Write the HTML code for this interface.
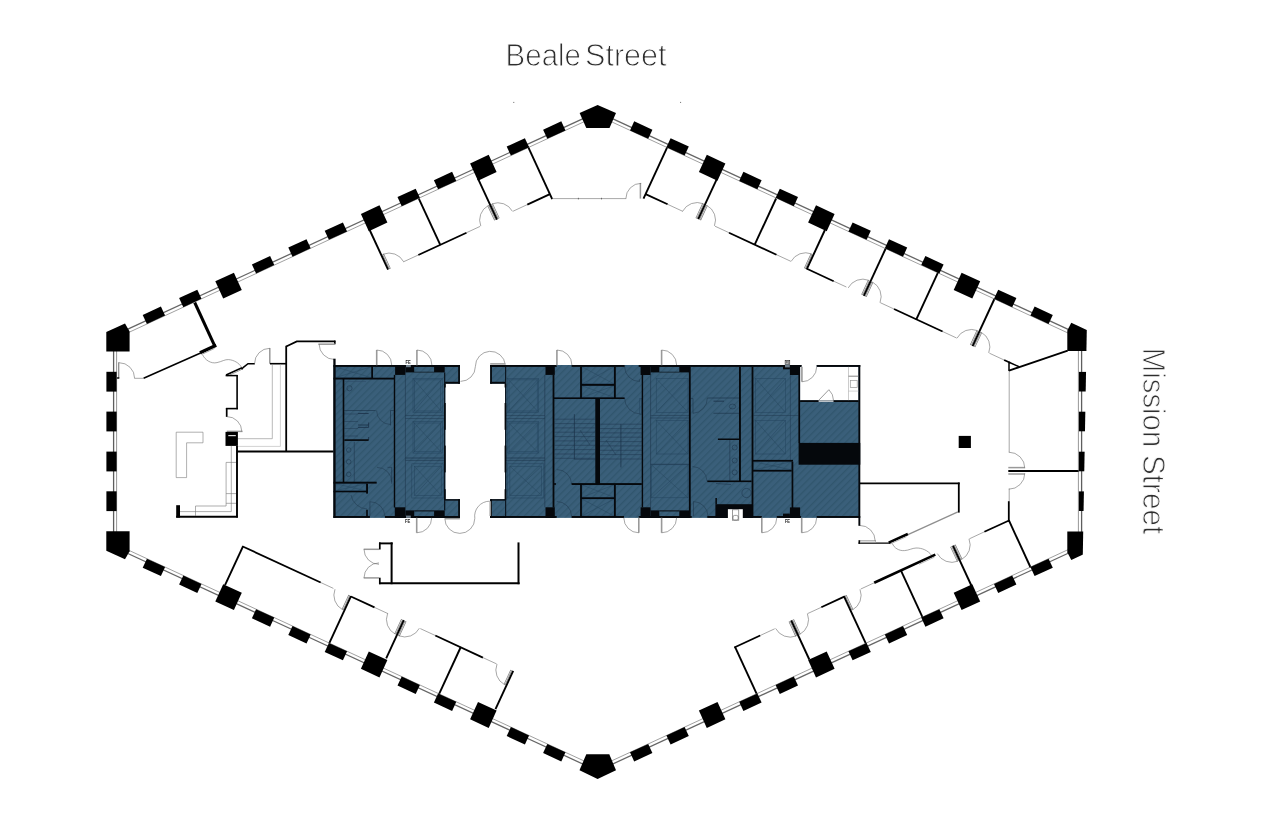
<!DOCTYPE html>
<html lang="en">
<head>
<meta charset="utf-8">
<title>Floor plan - Beale Street / Mission Street</title>
<style>
html,body{margin:0;padding:0;background:#fff;}
body{width:1286px;height:818px;overflow:hidden;position:relative;font-family:"Liberation Sans",sans-serif;}
svg{position:absolute;left:0;top:0;display:block;}
.street{font-family:"Liberation Sans",sans-serif;font-size:31.6px;fill:#2e2e2e;stroke:#fff;stroke-width:0.95px;stroke-linejoin:round;}
.fe{font-family:"Liberation Sans",sans-serif;font-size:5.8px;font-weight:bold;fill:#1a1a1a;filter:grayscale(1);}
</style>
</head>
<body>
<svg width="1286" height="818" viewBox="0 0 1286 818">
<defs>
<pattern id="hatch" width="5" height="5" patternUnits="userSpaceOnUse" patternTransform="rotate(-45)">
<rect width="5" height="5" fill="#3a5f7a"/>
<rect y="0" width="5" height="1.4" fill="#31566e"/>
</pattern>
</defs>
<rect width="1286" height="818" fill="#fff"/>
<g id="rooms">
<line x1="403.5" y1="261.8" x2="418.3" y2="255.0" stroke="#6c6c6c" stroke-width="0.60" stroke-linecap="butt"/>
<line x1="466.5" y1="232.7" x2="480.1" y2="226.4" stroke="#6c6c6c" stroke-width="0.60" stroke-linecap="butt"/>
<line x1="513.1" y1="211.2" x2="527.3" y2="204.6" stroke="#6c6c6c" stroke-width="0.60" stroke-linecap="butt"/>
<line x1="389.9" y1="268.8" x2="383.1" y2="254.2" stroke="#6f6f6f" stroke-width="1.90" stroke-linecap="butt"/>
<line x1="389.7" y1="268.4" x2="383.3" y2="254.7" stroke="#e8e8e8" stroke-width="0.80" stroke-linecap="butt"/>
<path d="M383.1 254.2 A16.5 16.5 0 0 1 403.7 261.8" fill="none" stroke="#6c6c6c" stroke-width="0.60"/>
<line x1="495.1" y1="220.2" x2="488.3" y2="205.5" stroke="#6f6f6f" stroke-width="1.90" stroke-linecap="butt"/>
<line x1="494.9" y1="219.7" x2="488.5" y2="206.0" stroke="#e8e8e8" stroke-width="0.80" stroke-linecap="butt"/>
<path d="M488.3 205.5 A16.5 16.5 0 0 0 480.8 226.1" fill="none" stroke="#6c6c6c" stroke-width="0.60"/>
<line x1="498.7" y1="218.5" x2="492.0" y2="203.9" stroke="#6f6f6f" stroke-width="1.90" stroke-linecap="butt"/>
<line x1="498.5" y1="218.0" x2="492.2" y2="204.3" stroke="#e8e8e8" stroke-width="0.80" stroke-linecap="butt"/>
<path d="M492.0 203.9 A16.5 16.5 0 0 1 512.5 211.4" fill="none" stroke="#6c6c6c" stroke-width="0.60"/>
<line x1="418.3" y1="255.0" x2="466.5" y2="232.7" stroke="#000" stroke-width="1.80" stroke-linecap="butt"/>
<line x1="527.3" y1="204.6" x2="549.9" y2="194.1" stroke="#000" stroke-width="1.80" stroke-linecap="butt"/>
<line x1="369.0" y1="228.5" x2="388.1" y2="269.7" stroke="#000" stroke-width="1.90" stroke-linecap="butt"/>
<line x1="418.7" y1="198.3" x2="440.4" y2="245.1" stroke="#000" stroke-width="1.90" stroke-linecap="butt"/>
<line x1="478.0" y1="178.6" x2="497.0" y2="219.6" stroke="#000" stroke-width="1.90" stroke-linecap="butt"/>
<line x1="528.0" y1="146.7" x2="552.2" y2="199.1" stroke="#000" stroke-width="1.90" stroke-linecap="butt"/>
<line x1="682.9" y1="211.4" x2="667.6" y2="204.3" stroke="#6c6c6c" stroke-width="0.60" stroke-linecap="butt"/>
<line x1="729.0" y1="232.7" x2="715.0" y2="226.2" stroke="#6c6c6c" stroke-width="0.60" stroke-linecap="butt"/>
<line x1="790.8" y1="261.3" x2="776.5" y2="254.7" stroke="#6c6c6c" stroke-width="0.60" stroke-linecap="butt"/>
<line x1="846.4" y1="287.0" x2="833.7" y2="281.2" stroke="#6c6c6c" stroke-width="0.60" stroke-linecap="butt"/>
<line x1="894.0" y1="309.0" x2="880.3" y2="302.7" stroke="#6c6c6c" stroke-width="0.60" stroke-linecap="butt"/>
<line x1="956.6" y1="338.0" x2="942.6" y2="331.5" stroke="#6c6c6c" stroke-width="0.60" stroke-linecap="butt"/>
<line x1="1004.1" y1="360.0" x2="989.4" y2="353.2" stroke="#6c6c6c" stroke-width="0.60" stroke-linecap="butt"/>
<line x1="696.4" y1="218.3" x2="703.2" y2="203.7" stroke="#6f6f6f" stroke-width="1.90" stroke-linecap="butt"/>
<line x1="696.6" y1="217.8" x2="703.0" y2="204.1" stroke="#e8e8e8" stroke-width="0.80" stroke-linecap="butt"/>
<path d="M703.2 203.7 A16.5 16.5 0 0 0 682.6 211.3" fill="none" stroke="#6c6c6c" stroke-width="0.60"/>
<line x1="700.1" y1="220.0" x2="706.8" y2="205.4" stroke="#6f6f6f" stroke-width="1.90" stroke-linecap="butt"/>
<line x1="700.3" y1="219.5" x2="706.6" y2="205.8" stroke="#e8e8e8" stroke-width="0.80" stroke-linecap="butt"/>
<path d="M706.8 205.4 A16.5 16.5 0 0 1 714.4 225.9" fill="none" stroke="#6c6c6c" stroke-width="0.60"/>
<line x1="804.9" y1="268.5" x2="811.6" y2="253.9" stroke="#6f6f6f" stroke-width="1.90" stroke-linecap="butt"/>
<line x1="805.1" y1="268.0" x2="811.4" y2="254.3" stroke="#e8e8e8" stroke-width="0.80" stroke-linecap="butt"/>
<path d="M811.6 253.9 A16.5 16.5 0 0 0 791.1 261.4" fill="none" stroke="#6c6c6c" stroke-width="0.60"/>
<line x1="862.1" y1="294.9" x2="868.8" y2="280.3" stroke="#6f6f6f" stroke-width="1.90" stroke-linecap="butt"/>
<line x1="862.3" y1="294.5" x2="868.6" y2="280.8" stroke="#e8e8e8" stroke-width="0.80" stroke-linecap="butt"/>
<path d="M868.8 280.3 A16.5 16.5 0 0 0 848.2 287.9" fill="none" stroke="#6c6c6c" stroke-width="0.60"/>
<line x1="865.7" y1="296.6" x2="872.4" y2="282.0" stroke="#6f6f6f" stroke-width="1.90" stroke-linecap="butt"/>
<line x1="865.9" y1="296.2" x2="872.2" y2="282.5" stroke="#e8e8e8" stroke-width="0.80" stroke-linecap="butt"/>
<path d="M872.4 282.0 A16.5 16.5 0 0 1 880.0 302.6" fill="none" stroke="#6c6c6c" stroke-width="0.60"/>
<line x1="970.8" y1="345.2" x2="977.5" y2="330.6" stroke="#6f6f6f" stroke-width="1.90" stroke-linecap="butt"/>
<line x1="971.0" y1="344.8" x2="977.3" y2="331.1" stroke="#e8e8e8" stroke-width="0.80" stroke-linecap="butt"/>
<path d="M977.5 330.6 A16.5 16.5 0 0 0 957.0 338.2" fill="none" stroke="#6c6c6c" stroke-width="0.60"/>
<line x1="974.4" y1="346.9" x2="981.2" y2="332.3" stroke="#6f6f6f" stroke-width="1.90" stroke-linecap="butt"/>
<line x1="974.6" y1="346.5" x2="981.0" y2="332.8" stroke="#e8e8e8" stroke-width="0.80" stroke-linecap="butt"/>
<path d="M981.2 332.3 A16.5 16.5 0 0 1 988.7 352.9" fill="none" stroke="#6c6c6c" stroke-width="0.60"/>
<line x1="667.6" y1="204.3" x2="645.6" y2="194.1" stroke="#000" stroke-width="1.80" stroke-linecap="butt"/>
<line x1="776.5" y1="254.7" x2="729.0" y2="232.7" stroke="#000" stroke-width="1.80" stroke-linecap="butt"/>
<line x1="833.7" y1="281.2" x2="806.9" y2="268.8" stroke="#000" stroke-width="1.80" stroke-linecap="butt"/>
<line x1="942.6" y1="331.5" x2="894.0" y2="309.0" stroke="#000" stroke-width="1.80" stroke-linecap="butt"/>
<line x1="1010.2" y1="362.8" x2="1004.1" y2="360.0" stroke="#000" stroke-width="1.80" stroke-linecap="butt"/>
<line x1="667.3" y1="147.1" x2="643.5" y2="198.7" stroke="#000" stroke-width="1.90" stroke-linecap="butt"/>
<line x1="716.9" y1="178.8" x2="698.2" y2="219.2" stroke="#000" stroke-width="1.90" stroke-linecap="butt"/>
<line x1="776.1" y1="198.5" x2="754.6" y2="244.9" stroke="#000" stroke-width="1.90" stroke-linecap="butt"/>
<line x1="824.9" y1="230.0" x2="806.7" y2="269.4" stroke="#000" stroke-width="1.90" stroke-linecap="butt"/>
<line x1="885.7" y1="248.5" x2="863.8" y2="295.9" stroke="#000" stroke-width="1.90" stroke-linecap="butt"/>
<line x1="939.1" y1="270.1" x2="916.2" y2="319.6" stroke="#000" stroke-width="1.90" stroke-linecap="butt"/>
<line x1="994.4" y1="299.0" x2="972.6" y2="346.2" stroke="#000" stroke-width="1.90" stroke-linecap="butt"/>
<line x1="320.7" y1="582.5" x2="333.4" y2="588.4" stroke="#6c6c6c" stroke-width="0.60" stroke-linecap="butt"/>
<line x1="374.5" y1="607.4" x2="388.1" y2="613.7" stroke="#6c6c6c" stroke-width="0.60" stroke-linecap="butt"/>
<line x1="420.3" y1="628.6" x2="435.3" y2="635.5" stroke="#6c6c6c" stroke-width="0.60" stroke-linecap="butt"/>
<line x1="482.9" y1="657.6" x2="496.6" y2="663.9" stroke="#6c6c6c" stroke-width="0.60" stroke-linecap="butt"/>
<line x1="349.3" y1="595.1" x2="342.6" y2="609.7" stroke="#6f6f6f" stroke-width="1.90" stroke-linecap="butt"/>
<line x1="349.1" y1="595.6" x2="342.8" y2="609.3" stroke="#e8e8e8" stroke-width="0.80" stroke-linecap="butt"/>
<path d="M342.6 609.7 A16.5 16.5 0 0 1 335.0 589.2" fill="none" stroke="#6c6c6c" stroke-width="0.60"/>
<line x1="402.0" y1="619.5" x2="395.2" y2="634.1" stroke="#6f6f6f" stroke-width="1.90" stroke-linecap="butt"/>
<line x1="401.8" y1="619.9" x2="395.4" y2="633.6" stroke="#e8e8e8" stroke-width="0.80" stroke-linecap="butt"/>
<path d="M395.2 634.1 A16.5 16.5 0 0 1 387.6 613.5" fill="none" stroke="#6c6c6c" stroke-width="0.60"/>
<line x1="405.6" y1="621.1" x2="398.8" y2="635.8" stroke="#6f6f6f" stroke-width="1.90" stroke-linecap="butt"/>
<line x1="405.4" y1="621.6" x2="399.0" y2="635.3" stroke="#e8e8e8" stroke-width="0.80" stroke-linecap="butt"/>
<path d="M398.8 635.8 A16.5 16.5 0 0 0 419.4 628.2" fill="none" stroke="#6c6c6c" stroke-width="0.60"/>
<line x1="511.3" y1="670.1" x2="504.6" y2="684.7" stroke="#6f6f6f" stroke-width="1.90" stroke-linecap="butt"/>
<line x1="511.1" y1="670.5" x2="504.8" y2="684.2" stroke="#e8e8e8" stroke-width="0.80" stroke-linecap="butt"/>
<path d="M504.6 684.7 A16.5 16.5 0 0 1 497.0 664.1" fill="none" stroke="#6c6c6c" stroke-width="0.60"/>
<line x1="242.2" y1="546.2" x2="320.7" y2="582.5" stroke="#000" stroke-width="1.80" stroke-linecap="butt"/>
<line x1="350.9" y1="596.5" x2="374.5" y2="607.4" stroke="#000" stroke-width="1.80" stroke-linecap="butt"/>
<line x1="435.3" y1="635.5" x2="482.9" y2="657.6" stroke="#000" stroke-width="1.80" stroke-linecap="butt"/>
<line x1="225.0" y1="585.1" x2="243.0" y2="546.3" stroke="#000" stroke-width="1.90" stroke-linecap="butt"/>
<line x1="329.2" y1="643.4" x2="351.0" y2="596.2" stroke="#000" stroke-width="1.90" stroke-linecap="butt"/>
<line x1="386.2" y1="658.3" x2="403.8" y2="620.2" stroke="#000" stroke-width="1.90" stroke-linecap="butt"/>
<line x1="438.7" y1="694.8" x2="460.8" y2="647.0" stroke="#000" stroke-width="1.90" stroke-linecap="butt"/>
<line x1="495.5" y1="709.1" x2="513.2" y2="670.8" stroke="#000" stroke-width="1.90" stroke-linecap="butt"/>
<line x1="774.7" y1="628.8" x2="760.2" y2="635.5" stroke="#6c6c6c" stroke-width="0.60" stroke-linecap="butt"/>
<line x1="821.3" y1="607.3" x2="807.6" y2="613.6" stroke="#6c6c6c" stroke-width="0.60" stroke-linecap="butt"/>
<line x1="874.2" y1="582.8" x2="860.8" y2="589.0" stroke="#6c6c6c" stroke-width="0.60" stroke-linecap="butt"/>
<line x1="984.4" y1="531.8" x2="969.4" y2="538.8" stroke="#6c6c6c" stroke-width="0.60" stroke-linecap="butt"/>
<line x1="789.5" y1="621.4" x2="796.2" y2="636.0" stroke="#6f6f6f" stroke-width="1.90" stroke-linecap="butt"/>
<line x1="789.7" y1="621.8" x2="796.0" y2="635.5" stroke="#e8e8e8" stroke-width="0.80" stroke-linecap="butt"/>
<path d="M796.2 636.0 A16.5 16.5 0 0 1 775.6 628.4" fill="none" stroke="#6c6c6c" stroke-width="0.60"/>
<line x1="793.1" y1="619.7" x2="799.8" y2="634.3" stroke="#6f6f6f" stroke-width="1.90" stroke-linecap="butt"/>
<line x1="793.3" y1="620.1" x2="799.6" y2="633.8" stroke="#e8e8e8" stroke-width="0.80" stroke-linecap="butt"/>
<path d="M799.8 634.3 A16.5 16.5 0 0 0 807.4 613.7" fill="none" stroke="#6c6c6c" stroke-width="0.60"/>
<line x1="845.7" y1="595.3" x2="852.5" y2="609.9" stroke="#6f6f6f" stroke-width="1.90" stroke-linecap="butt"/>
<line x1="845.9" y1="595.8" x2="852.3" y2="609.5" stroke="#e8e8e8" stroke-width="0.80" stroke-linecap="butt"/>
<path d="M852.5 609.9 A16.5 16.5 0 0 0 860.0 589.4" fill="none" stroke="#6c6c6c" stroke-width="0.60"/>
<line x1="951.1" y1="546.6" x2="957.9" y2="561.2" stroke="#6f6f6f" stroke-width="1.90" stroke-linecap="butt"/>
<line x1="951.3" y1="547.0" x2="957.6" y2="560.7" stroke="#e8e8e8" stroke-width="0.80" stroke-linecap="butt"/>
<path d="M957.9 561.2 A16.5 16.5 0 0 1 937.3 553.6" fill="none" stroke="#6c6c6c" stroke-width="0.60"/>
<line x1="954.7" y1="544.9" x2="961.5" y2="559.5" stroke="#6f6f6f" stroke-width="1.90" stroke-linecap="butt"/>
<line x1="954.9" y1="545.4" x2="961.3" y2="559.1" stroke="#e8e8e8" stroke-width="0.80" stroke-linecap="butt"/>
<path d="M961.5 559.5 A16.5 16.5 0 0 0 969.0 538.9" fill="none" stroke="#6c6c6c" stroke-width="0.60"/>
<line x1="760.2" y1="635.5" x2="734.3" y2="647.5" stroke="#000" stroke-width="1.80" stroke-linecap="butt"/>
<line x1="844.8" y1="596.4" x2="821.3" y2="607.3" stroke="#000" stroke-width="1.80" stroke-linecap="butt"/>
<line x1="1008.5" y1="520.7" x2="984.4" y2="531.8" stroke="#000" stroke-width="1.80" stroke-linecap="butt"/>
<line x1="756.8" y1="694.1" x2="734.9" y2="646.7" stroke="#000" stroke-width="1.90" stroke-linecap="butt"/>
<line x1="809.3" y1="659.5" x2="791.2" y2="620.4" stroke="#000" stroke-width="1.90" stroke-linecap="butt"/>
<line x1="866.0" y1="643.8" x2="844.0" y2="596.4" stroke="#000" stroke-width="1.90" stroke-linecap="butt"/>
<line x1="922.8" y1="617.9" x2="901.0" y2="570.7" stroke="#000" stroke-width="1.90" stroke-linecap="butt"/>
<line x1="971.8" y1="586.5" x2="952.9" y2="545.6" stroke="#000" stroke-width="1.90" stroke-linecap="butt"/>
<line x1="1030.6" y1="567.5" x2="1008.8" y2="520.2" stroke="#000" stroke-width="1.90" stroke-linecap="butt"/>
<line x1="874.2" y1="582.8" x2="935.3" y2="554.6" stroke="#000" stroke-width="2.60" stroke-linecap="butt"/>
<line x1="919.0" y1="564.3" x2="934.4" y2="557.2" stroke="#b5b5b5" stroke-width="1.00" stroke-linecap="butt"/>
<line x1="552.2" y1="198.6" x2="626.2" y2="198.6" stroke="#6c6c6c" stroke-width="0.60" stroke-linecap="butt"/>
<line x1="578.4" y1="197.8" x2="578.4" y2="199.4" stroke="#555" stroke-width="0.80" stroke-linecap="butt"/>
<line x1="601.5" y1="197.8" x2="601.5" y2="199.4" stroke="#555" stroke-width="0.80" stroke-linecap="butt"/>
<line x1="640.4" y1="183.0" x2="640.4" y2="198.6" stroke="#999" stroke-width="1.50" stroke-linecap="butt"/>
<path d="M641.2 183.3 A15.3 15.3 0 0 0 625.9 198.6" fill="none" stroke="#6c6c6c" stroke-width="0.60"/>
<line x1="194.7" y1="302.5" x2="214.9" y2="346.3" stroke="#000" stroke-width="3.00" stroke-linecap="butt"/>
<line x1="216.2" y1="345.3" x2="200.0" y2="352.8" stroke="#000" stroke-width="3.40" stroke-linecap="butt"/>
<line x1="214.5" y1="348.4" x2="201.5" y2="354.5" stroke="#a0a0a0" stroke-width="1.00" stroke-linecap="butt"/>
<line x1="200.6" y1="353.0" x2="143.6" y2="378.3" stroke="#000" stroke-width="1.50" stroke-linecap="butt"/>
<line x1="143.6" y1="378.3" x2="134.4" y2="378.3" stroke="#6c6c6c" stroke-width="0.60" stroke-linecap="butt"/>
<line x1="118.7" y1="362.3" x2="118.7" y2="378.3" stroke="#8c8c8c" stroke-width="1.30" stroke-linecap="butt"/>
<line x1="116.8" y1="378.0" x2="119.3" y2="378.0" stroke="#000" stroke-width="1.40" stroke-linecap="butt"/>
<path d="M119.0 362.7 A15.6 15.6 0 0 1 134.6 378.3" fill="none" stroke="#6c6c6c" stroke-width="0.60"/>
<path d="M202.6 354.8 C205 360 211 364 217 362.6 C222 361.5 225 359.3 228.5 359.6 C234 360 239 363 241.5 367.2" fill="none" stroke="#6c6c6c" stroke-width="0.60"/>
<line x1="226.1" y1="375.0" x2="242.0" y2="367.8" stroke="#000" stroke-width="1.60" stroke-linecap="butt"/>
<line x1="227.5" y1="376.0" x2="241.0" y2="369.8" stroke="#a0a0a0" stroke-width="1.00" stroke-linecap="butt"/>
<line x1="225.6" y1="375.6" x2="237.6" y2="375.6" stroke="#000" stroke-width="1.50" stroke-linecap="butt"/>
<path d="M241.5 369.6 L243.4 367.3 L248.0 363.7 L254.8 363.7" fill="none" stroke="#000" stroke-width="1.50"/>
<line x1="237.1" y1="375.0" x2="237.1" y2="409.3" stroke="#000" stroke-width="1.60" stroke-linecap="butt"/>
<line x1="225.9" y1="408.6" x2="237.9" y2="408.6" stroke="#000" stroke-width="1.60" stroke-linecap="butt"/>
<line x1="226.7" y1="408.0" x2="226.7" y2="416.9" stroke="#000" stroke-width="1.70" stroke-linecap="butt"/>
<line x1="226.8" y1="431.4" x2="242.5" y2="431.4" stroke="#999" stroke-width="1.50" stroke-linecap="butt"/>
<path d="M226.8 416.6 A15.0 15.0 0 0 1 241.8 431.6" fill="none" stroke="#6c6c6c" stroke-width="0.60"/>
<line x1="269.8" y1="348.0" x2="269.8" y2="363.7" stroke="#999" stroke-width="1.50" stroke-linecap="butt"/>
<path d="M254.6 363.5 A15.2 15.2 0 0 1 269.8 348.3" fill="none" stroke="#6c6c6c" stroke-width="0.60"/>
<line x1="270.0" y1="363.7" x2="286.0" y2="363.7" stroke="#000" stroke-width="1.60" stroke-linecap="butt"/>
<line x1="272.3" y1="364.5" x2="272.3" y2="438.7" stroke="#8a8a8a" stroke-width="0.60" stroke-linecap="butt"/>
<line x1="280.4" y1="364.5" x2="280.4" y2="446.4" stroke="#b4b4b4" stroke-width="0.60" stroke-linecap="butt"/>
<line x1="237.9" y1="438.7" x2="272.3" y2="438.7" stroke="#8a8a8a" stroke-width="0.60" stroke-linecap="butt"/>
<line x1="237.9" y1="446.4" x2="280.4" y2="446.4" stroke="#b4b4b4" stroke-width="0.60" stroke-linecap="butt"/>
<line x1="286.2" y1="345.8" x2="286.2" y2="451.6" stroke="#000" stroke-width="1.80" stroke-linecap="butt"/>
<path d="M286.2 346.6 L296.8 341.4 L335.4 341.4" fill="none" stroke="#000" stroke-width="1.70"/>
<rect x="334.0" y="340.6" width="1.6" height="3.6" fill="#000"/>
<line x1="318.4" y1="344.2" x2="335.2" y2="344.2" stroke="#999" stroke-width="1.50" stroke-linecap="butt"/>
<path d="M319.1 344.0 A15.5 15.5 0 0 0 334.6 359.5" fill="none" stroke="#6c6c6c" stroke-width="0.60"/>
<line x1="237.0" y1="451.6" x2="333.8" y2="451.6" stroke="#000" stroke-width="2.00" stroke-linecap="butt"/>
<rect x="225.5" y="431.9" width="12.4" height="14.0" fill="#000"/>
<rect x="228.3" y="435.0" width="7.5" height="1.2" fill="#ddd"/>
<line x1="237.0" y1="445.9" x2="237.0" y2="517.6" stroke="#000" stroke-width="1.90" stroke-linecap="butt"/>
<line x1="176.2" y1="516.7" x2="237.9" y2="516.7" stroke="#000" stroke-width="1.90" stroke-linecap="butt"/>
<rect x="176.2" y="505.2" width="3.8" height="12.4" fill="#000"/>
<path d="M176.2 432.2 L203.0 432.2 L203.0 442.8 L186.6 442.8 L186.6 477.6 L176.2 477.6 Z" fill="none" stroke="#7a7a7a" stroke-width="0.60"/>
<line x1="231.3" y1="445.9" x2="231.3" y2="511.6" stroke="#777" stroke-width="0.60" stroke-linecap="butt"/>
<line x1="226.1" y1="462.4" x2="226.1" y2="506.0" stroke="#777" stroke-width="0.60" stroke-linecap="butt"/>
<line x1="226.1" y1="462.4" x2="236.0" y2="462.4" stroke="#777" stroke-width="0.60" stroke-linecap="butt"/>
<line x1="226.1" y1="493.6" x2="236.0" y2="493.6" stroke="#777" stroke-width="0.60" stroke-linecap="butt"/>
<line x1="226.1" y1="503.3" x2="236.0" y2="503.3" stroke="#777" stroke-width="0.60" stroke-linecap="butt"/>
<line x1="195.5" y1="506.0" x2="226.1" y2="506.0" stroke="#777" stroke-width="0.60" stroke-linecap="butt"/>
<line x1="180.0" y1="511.6" x2="231.3" y2="511.6" stroke="#777" stroke-width="0.60" stroke-linecap="butt"/>
<line x1="195.5" y1="506.0" x2="195.5" y2="516.0" stroke="#777" stroke-width="0.60" stroke-linecap="butt"/>
<line x1="379.0" y1="543.4" x2="392.7" y2="543.4" stroke="#000" stroke-width="1.90" stroke-linecap="butt"/>
<line x1="391.6" y1="542.4" x2="391.6" y2="584.2" stroke="#000" stroke-width="2.00" stroke-linecap="butt"/>
<line x1="379.8" y1="542.4" x2="379.8" y2="549.5" stroke="#000" stroke-width="1.70" stroke-linecap="butt"/>
<line x1="379.8" y1="577.7" x2="379.8" y2="584.2" stroke="#000" stroke-width="1.70" stroke-linecap="butt"/>
<line x1="379.0" y1="583.2" x2="519.6" y2="583.2" stroke="#000" stroke-width="1.90" stroke-linecap="butt"/>
<line x1="518.5" y1="542.4" x2="518.5" y2="584.2" stroke="#000" stroke-width="2.00" stroke-linecap="butt"/>
<line x1="363.7" y1="549.3" x2="379.0" y2="549.3" stroke="#999" stroke-width="1.50" stroke-linecap="butt"/>
<line x1="363.7" y1="577.9" x2="379.0" y2="577.9" stroke="#999" stroke-width="1.50" stroke-linecap="butt"/>
<path d="M364.0 549.3 A15.0 15.0 0 0 0 379.0 564.3" fill="none" stroke="#6c6c6c" stroke-width="0.60"/>
<path d="M364.0 577.9 A15.0 15.0 0 0 1 379.0 562.9" fill="none" stroke="#6c6c6c" stroke-width="0.60"/>
<line x1="859.4" y1="483.4" x2="959.7" y2="483.4" stroke="#000" stroke-width="1.80" stroke-linecap="butt"/>
<line x1="958.8" y1="482.5" x2="958.8" y2="512.6" stroke="#000" stroke-width="1.80" stroke-linecap="butt"/>
<line x1="957.9" y1="511.8" x2="907.4" y2="534.8" stroke="#8f8f8f" stroke-width="1.30" stroke-linecap="butt"/>
<line x1="907.8" y1="534.0" x2="888.7" y2="542.6" stroke="#000" stroke-width="2.60" stroke-linecap="butt"/>
<line x1="906.5" y1="536.6" x2="890.5" y2="543.8" stroke="#aaa" stroke-width="0.90" stroke-linecap="butt"/>
<line x1="858.5" y1="543.1" x2="890.5" y2="543.1" stroke="#000" stroke-width="1.40" stroke-linecap="butt"/>
<rect x="858.5" y="540.2" width="1.5" height="3.6" fill="#000"/>
<rect x="860.2" y="540.4" width="15.4" height="2.0" fill="#dedede" stroke="#8a8a8a" stroke-width="0.5"/>
<path d="M859.6 525.4 A15.6 15.6 0 0 1 875.2 541.0" fill="none" stroke="#6c6c6c" stroke-width="0.60"/>
<path d="M892.4 543.5 C894 548 899 551 904.5 550.6 C909 550.3 912 548.2 916 548.0 C922 547.8 928 550.5 931.5 555.2" fill="none" stroke="#6c6c6c" stroke-width="0.60"/>
<rect x="958.7" y="435.9" width="12.2" height="12.1" fill="#000"/>
<line x1="1009.2" y1="371.0" x2="1009.2" y2="452.4" stroke="#6c6c6c" stroke-width="0.60" stroke-linecap="butt"/>
<line x1="1009.2" y1="488.5" x2="1009.2" y2="501.2" stroke="#6c6c6c" stroke-width="0.60" stroke-linecap="butt"/>
<line x1="1008.8" y1="501.2" x2="1008.8" y2="521.9" stroke="#000" stroke-width="1.80" stroke-linecap="butt"/>
<line x1="1008.3" y1="470.9" x2="1079.0" y2="470.9" stroke="#000" stroke-width="2.00" stroke-linecap="butt"/>
<line x1="1008.3" y1="467.6" x2="1024.8" y2="467.6" stroke="#999" stroke-width="1.50" stroke-linecap="butt"/>
<line x1="1008.3" y1="474.0" x2="1024.8" y2="474.0" stroke="#999" stroke-width="1.50" stroke-linecap="butt"/>
<path d="M1008.8 452.2 A16.0 16.0 0 0 1 1024.8 468.2" fill="none" stroke="#6c6c6c" stroke-width="0.60"/>
<path d="M1024.8 473.2 A16.0 16.0 0 0 1 1008.8 489.2" fill="none" stroke="#6c6c6c" stroke-width="0.60"/>
<line x1="1067.7" y1="350.6" x2="1009.0" y2="370.6" stroke="#000" stroke-width="1.90" stroke-linecap="butt"/>
<path d="M1009.0 362.0 L1009.0 371.0 M1009.0 362.2 L1019.5 366.9" fill="none" stroke="#000" stroke-width="1.50"/>
<rect x="513.2" y="101.9" width="1.1" height="1.0" fill="#777"/>
<rect x="680.0" y="101.9" width="1.1" height="1.0" fill="#777"/>
</g>
<g id="core" opacity="0.999">
<rect x="333.5" y="365.0" width="111.8" height="152.9" fill="url(#hatch)"/>
<rect x="444.7" y="365.0" width="15.2" height="18.7" fill="url(#hatch)"/>
<rect x="444.7" y="499.2" width="15.2" height="18.7" fill="url(#hatch)"/>
<rect x="490.2" y="365.0" width="15.6" height="18.7" fill="url(#hatch)"/>
<rect x="490.2" y="499.2" width="15.6" height="18.7" fill="url(#hatch)"/>
<rect x="505.6" y="365.0" width="354.2" height="152.9" fill="url(#hatch)"/>
<rect x="800.1" y="366.8" width="58.4" height="33.6" fill="#fff"/>
<rect x="801.2" y="364.9" width="15.5" height="2.1" fill="#fff"/>
<line x1="405.4" y1="374.9" x2="405.4" y2="507.3" stroke="#1a3047" stroke-width="0.50"/>
<rect x="413.0" y="378.6" width="29.2" height="33.7" fill="none" stroke="#23425c" stroke-width="0.45"/>
<line x1="413.0" y1="378.6" x2="442.2" y2="412.3" stroke="#23425c" stroke-width="0.45"/>
<line x1="413.0" y1="412.3" x2="442.2" y2="378.6" stroke="#23425c" stroke-width="0.45"/>
<rect x="414.3" y="379.9" width="26.2" height="31.1" fill="none" stroke="#23425c" stroke-width="0.45"/>
<rect x="413.0" y="421.7" width="29.2" height="31.4" fill="none" stroke="#23425c" stroke-width="0.45"/>
<line x1="413.0" y1="421.7" x2="442.2" y2="453.1" stroke="#23425c" stroke-width="0.45"/>
<line x1="413.0" y1="453.1" x2="442.2" y2="421.7" stroke="#23425c" stroke-width="0.45"/>
<rect x="414.3" y="423.0" width="26.2" height="28.8" fill="none" stroke="#23425c" stroke-width="0.45"/>
<line x1="405.4" y1="458.0" x2="444.7" y2="458.0" stroke="#1a3047" stroke-width="0.60"/>
<line x1="405.4" y1="460.4" x2="444.7" y2="460.4" stroke="#1a3047" stroke-width="0.50"/>
<line x1="405.4" y1="415.5" x2="444.7" y2="415.5" stroke="#1a3047" stroke-width="0.40"/>
<line x1="405.4" y1="418.5" x2="444.7" y2="418.5" stroke="#1a3047" stroke-width="0.40"/>
<rect x="414.3" y="466.2" width="27.2" height="29.3" fill="none" stroke="#23425c" stroke-width="0.45"/>
<line x1="414.3" y1="466.2" x2="441.5" y2="495.5" stroke="#23425c" stroke-width="0.45"/>
<line x1="414.3" y1="495.5" x2="441.5" y2="466.2" stroke="#23425c" stroke-width="0.45"/>
<rect x="411.8" y="463.8" width="31.7" height="34.2" fill="none" stroke="#23425c" stroke-width="0.45"/>
<line x1="544.8" y1="374.9" x2="544.8" y2="507.3" stroke="#1a3047" stroke-width="0.50"/>
<rect x="507.5" y="378.6" width="31.1" height="33.7" fill="none" stroke="#23425c" stroke-width="0.45"/>
<line x1="507.5" y1="378.6" x2="538.6" y2="412.3" stroke="#23425c" stroke-width="0.45"/>
<line x1="507.5" y1="412.3" x2="538.6" y2="378.6" stroke="#23425c" stroke-width="0.45"/>
<rect x="509.0" y="379.9" width="28.2" height="31.1" fill="none" stroke="#23425c" stroke-width="0.45"/>
<rect x="507.5" y="421.7" width="31.1" height="31.4" fill="none" stroke="#23425c" stroke-width="0.45"/>
<line x1="507.5" y1="421.7" x2="538.6" y2="453.1" stroke="#23425c" stroke-width="0.45"/>
<line x1="507.5" y1="453.1" x2="538.6" y2="421.7" stroke="#23425c" stroke-width="0.45"/>
<rect x="509.0" y="423.0" width="28.2" height="28.8" fill="none" stroke="#23425c" stroke-width="0.45"/>
<line x1="505.6" y1="458.0" x2="544.8" y2="458.0" stroke="#1a3047" stroke-width="0.60"/>
<line x1="505.6" y1="460.4" x2="544.8" y2="460.4" stroke="#1a3047" stroke-width="0.50"/>
<line x1="505.6" y1="415.5" x2="544.8" y2="415.5" stroke="#1a3047" stroke-width="0.40"/>
<line x1="505.6" y1="418.5" x2="544.8" y2="418.5" stroke="#1a3047" stroke-width="0.40"/>
<rect x="509.9" y="466.2" width="31.8" height="29.3" fill="none" stroke="#23425c" stroke-width="0.45"/>
<line x1="509.9" y1="466.2" x2="541.7" y2="495.5" stroke="#23425c" stroke-width="0.45"/>
<line x1="509.9" y1="495.5" x2="541.7" y2="466.2" stroke="#23425c" stroke-width="0.45"/>
<rect x="507.6" y="463.8" width="36.2" height="34.2" fill="none" stroke="#23425c" stroke-width="0.45"/>
<line x1="650.6" y1="374.9" x2="650.6" y2="507.3" stroke="#1a3047" stroke-width="0.50"/>
<rect x="656.2" y="378.6" width="31.8" height="33.7" fill="none" stroke="#23425c" stroke-width="0.45"/>
<line x1="656.2" y1="378.6" x2="688.0" y2="412.3" stroke="#23425c" stroke-width="0.45"/>
<line x1="656.2" y1="412.3" x2="688.0" y2="378.6" stroke="#23425c" stroke-width="0.45"/>
<rect x="656.2" y="420.5" width="31.8" height="33.5" fill="none" stroke="#23425c" stroke-width="0.45"/>
<line x1="656.2" y1="420.5" x2="688.0" y2="454.0" stroke="#23425c" stroke-width="0.45"/>
<line x1="656.2" y1="454.0" x2="688.0" y2="420.5" stroke="#23425c" stroke-width="0.45"/>
<line x1="650.6" y1="415.5" x2="688.9" y2="415.5" stroke="#1a3047" stroke-width="0.40"/>
<line x1="650.6" y1="418.0" x2="688.9" y2="418.0" stroke="#1a3047" stroke-width="0.40"/>
<line x1="650.6" y1="464.3" x2="688.9" y2="464.3" stroke="#1a3047" stroke-width="0.60"/>
<rect x="651.4" y="464.8" width="36.6" height="33.0" fill="none" stroke="#23425c" stroke-width="0.45"/>
<line x1="651.4" y1="464.8" x2="688.0" y2="497.8" stroke="#23425c" stroke-width="0.45"/>
<line x1="651.4" y1="497.8" x2="688.0" y2="464.8" stroke="#23425c" stroke-width="0.45"/>
<rect x="755.5" y="378.6" width="29.9" height="33.7" fill="none" stroke="#23425c" stroke-width="0.45"/>
<line x1="755.5" y1="378.6" x2="785.4" y2="412.3" stroke="#23425c" stroke-width="0.45"/>
<line x1="755.5" y1="412.3" x2="785.4" y2="378.6" stroke="#23425c" stroke-width="0.45"/>
<rect x="755.5" y="420.5" width="29.9" height="33.5" fill="none" stroke="#23425c" stroke-width="0.45"/>
<line x1="755.5" y1="420.5" x2="785.4" y2="454.0" stroke="#23425c" stroke-width="0.45"/>
<line x1="755.5" y1="454.0" x2="785.4" y2="420.5" stroke="#23425c" stroke-width="0.45"/>
<line x1="790.4" y1="375.0" x2="790.4" y2="460.0" stroke="#1a3047" stroke-width="0.40"/>
<line x1="753.5" y1="415.5" x2="798.4" y2="415.5" stroke="#1a3047" stroke-width="0.40"/>
<rect x="582.0" y="366.8" width="32.0" height="17.1" fill="none" stroke="#23425c" stroke-width="0.45"/>
<line x1="582.0" y1="366.8" x2="614.0" y2="383.9" stroke="#23425c" stroke-width="0.45"/>
<line x1="582.0" y1="383.9" x2="614.0" y2="366.8" stroke="#23425c" stroke-width="0.45"/>
<rect x="582.0" y="385.8" width="32.0" height="11.6" fill="none" stroke="#23425c" stroke-width="0.45"/>
<line x1="582.0" y1="385.8" x2="614.0" y2="397.4" stroke="#23425c" stroke-width="0.45"/>
<line x1="582.0" y1="397.4" x2="614.0" y2="385.8" stroke="#23425c" stroke-width="0.45"/>
<rect x="582.0" y="484.9" width="32.0" height="12.4" fill="none" stroke="#23425c" stroke-width="0.45"/>
<line x1="582.0" y1="484.9" x2="614.0" y2="497.3" stroke="#23425c" stroke-width="0.45"/>
<line x1="582.0" y1="497.3" x2="614.0" y2="484.9" stroke="#23425c" stroke-width="0.45"/>
<rect x="582.0" y="499.0" width="32.0" height="17.0" fill="none" stroke="#23425c" stroke-width="0.45"/>
<line x1="582.0" y1="499.0" x2="614.0" y2="516.0" stroke="#23425c" stroke-width="0.45"/>
<line x1="582.0" y1="516.0" x2="614.0" y2="499.0" stroke="#23425c" stroke-width="0.45"/>
<rect x="335.2" y="366.8" width="36.2" height="10.9" fill="none" stroke="#23425c" stroke-width="0.45"/>
<line x1="335.2" y1="366.8" x2="371.4" y2="377.7" stroke="#23425c" stroke-width="0.45"/>
<line x1="335.2" y1="377.7" x2="371.4" y2="366.8" stroke="#23425c" stroke-width="0.45"/>
<rect x="335.2" y="483.6" width="30.9" height="7.2" fill="none" stroke="#23425c" stroke-width="0.45"/>
<line x1="335.2" y1="483.6" x2="366.1" y2="490.8" stroke="#23425c" stroke-width="0.45"/>
<line x1="335.2" y1="490.8" x2="366.1" y2="483.6" stroke="#23425c" stroke-width="0.45"/>
<rect x="753.5" y="461.6" width="38.2" height="8.4" fill="none" stroke="#23425c" stroke-width="0.45"/>
<line x1="753.5" y1="461.6" x2="791.7" y2="470.0" stroke="#23425c" stroke-width="0.45"/>
<line x1="753.5" y1="470.0" x2="791.7" y2="461.6" stroke="#23425c" stroke-width="0.45"/>
<line x1="554.6" y1="419.2" x2="595.3" y2="419.2" stroke="#1a3047" stroke-width="0.45"/>
<line x1="554.6" y1="423.6" x2="595.3" y2="423.6" stroke="#1a3047" stroke-width="0.45"/>
<line x1="554.6" y1="427.9" x2="595.3" y2="427.9" stroke="#1a3047" stroke-width="0.45"/>
<line x1="554.6" y1="432.2" x2="595.3" y2="432.2" stroke="#1a3047" stroke-width="0.45"/>
<line x1="554.6" y1="436.6" x2="595.3" y2="436.6" stroke="#1a3047" stroke-width="0.45"/>
<line x1="554.6" y1="440.9" x2="595.3" y2="440.9" stroke="#1a3047" stroke-width="0.45"/>
<line x1="554.6" y1="445.3" x2="595.3" y2="445.3" stroke="#1a3047" stroke-width="0.45"/>
<line x1="554.6" y1="449.6" x2="595.3" y2="449.6" stroke="#1a3047" stroke-width="0.45"/>
<line x1="554.6" y1="454.0" x2="595.3" y2="454.0" stroke="#1a3047" stroke-width="0.45"/>
<line x1="554.6" y1="458.3" x2="595.3" y2="458.3" stroke="#1a3047" stroke-width="0.45"/>
<line x1="600.0" y1="424.2" x2="641.8" y2="424.2" stroke="#1a3047" stroke-width="0.45"/>
<line x1="600.0" y1="428.6" x2="641.8" y2="428.6" stroke="#1a3047" stroke-width="0.45"/>
<line x1="600.0" y1="432.9" x2="641.8" y2="432.9" stroke="#1a3047" stroke-width="0.45"/>
<line x1="600.0" y1="437.2" x2="641.8" y2="437.2" stroke="#1a3047" stroke-width="0.45"/>
<line x1="600.0" y1="441.6" x2="641.8" y2="441.6" stroke="#1a3047" stroke-width="0.45"/>
<line x1="600.0" y1="445.9" x2="641.8" y2="445.9" stroke="#1a3047" stroke-width="0.45"/>
<line x1="600.0" y1="450.3" x2="641.8" y2="450.3" stroke="#1a3047" stroke-width="0.45"/>
<line x1="600.0" y1="454.6" x2="641.8" y2="454.6" stroke="#1a3047" stroke-width="0.45"/>
<line x1="600.0" y1="459.0" x2="641.8" y2="459.0" stroke="#1a3047" stroke-width="0.45"/>
<line x1="574.4" y1="414.2" x2="574.4" y2="459.3" stroke="#1a3047" stroke-width="0.70"/>
<line x1="574.4" y1="459.3" x2="595.3" y2="459.3" stroke="#1a3047" stroke-width="0.50"/>
<line x1="620.9" y1="424.2" x2="620.9" y2="467.4" stroke="#1a3047" stroke-width="0.70"/>
<line x1="580.0" y1="430.0" x2="590.0" y2="445.0" stroke="#1a3047" stroke-width="0.40"/>
<line x1="606.0" y1="440.0" x2="616.0" y2="455.0" stroke="#1a3047" stroke-width="0.40"/>
<line x1="344.3" y1="410.5" x2="375.5" y2="410.5" stroke="#1a3047" stroke-width="0.60"/>
<line x1="344.3" y1="414.0" x2="358.0" y2="414.0" stroke="#1a3047" stroke-width="0.40"/>
<line x1="344.3" y1="421.5" x2="358.0" y2="421.5" stroke="#1a3047" stroke-width="0.40"/>
<line x1="344.3" y1="428.5" x2="358.0" y2="428.5" stroke="#1a3047" stroke-width="0.40"/>
<line x1="344.3" y1="436.0" x2="358.0" y2="436.0" stroke="#1a3047" stroke-width="0.40"/>
<line x1="358.0" y1="413.5" x2="368.6" y2="413.5" stroke="#1a3047" stroke-width="0.80"/>
<line x1="358.0" y1="425.0" x2="368.6" y2="425.0" stroke="#1a3047" stroke-width="0.80"/>
<line x1="358.0" y1="427.4" x2="368.6" y2="427.4" stroke="#1a3047" stroke-width="0.80"/>
<line x1="368.6" y1="422.5" x2="368.6" y2="427.4" stroke="#1a3047" stroke-width="0.80"/>
<line x1="368.6" y1="437.0" x2="368.6" y2="440.0" stroke="#1a3047" stroke-width="0.80"/>
<line x1="390.5" y1="410.5" x2="390.5" y2="425.4" stroke="#1a3047" stroke-width="0.60"/>
<line x1="390.5" y1="410.5" x2="393.8" y2="410.5" stroke="#1a3047" stroke-width="0.60"/>
<line x1="354.3" y1="441.8" x2="354.3" y2="481.7" stroke="#1a3047" stroke-width="0.50"/>
<circle cx="348.7" cy="450.0" r="2.3" fill="none" stroke="#1b3146" stroke-width="0.5"/>
<circle cx="348.7" cy="461.8" r="2.3" fill="none" stroke="#1b3146" stroke-width="0.5"/>
<circle cx="348.7" cy="474.3" r="2.3" fill="none" stroke="#1b3146" stroke-width="0.5"/>
<circle cx="349.5" cy="388.3" r="2.6" fill="none" stroke="#1b3146" stroke-width="0.5"/>
<line x1="345.0" y1="381.5" x2="366.0" y2="381.5" stroke="#2c4a66" stroke-width="0.50"/>
<line x1="391.7" y1="467.4" x2="391.7" y2="483.6" stroke="#1a3047" stroke-width="0.60"/>
<line x1="387.5" y1="467.4" x2="391.7" y2="467.4" stroke="#1a3047" stroke-width="0.50"/>
<path d="M376.6 410.5 A14 14 0 0 0 390.5 424.5" fill="none" stroke="#1b3146" stroke-width="0.45"/>
<path d="M377 467.4 A14.5 14.5 0 0 1 391.7 482" fill="none" stroke="#1b3146" stroke-width="0.45"/>
<path d="M351 495 A17 17 0 0 0 367 509" fill="none" stroke="#1b3146" stroke-width="0.45"/>
<line x1="369.9" y1="501.7" x2="369.9" y2="516.0" stroke="#1a3047" stroke-width="0.50"/>
<path d="M369.9 501.7 A15 15 0 0 1 384.9 516" fill="none" stroke="#1b3146" stroke-width="0.45"/>
<line x1="707.3" y1="398.0" x2="739.7" y2="398.0" stroke="#1a3047" stroke-width="0.60"/>
<line x1="713.5" y1="401.2" x2="724.0" y2="401.2" stroke="#1a3047" stroke-width="0.80"/>
<line x1="713.5" y1="413.3" x2="739.0" y2="413.3" stroke="#1a3047" stroke-width="0.60"/>
<line x1="693.0" y1="398.5" x2="693.0" y2="413.5" stroke="#1a3047" stroke-width="0.50"/>
<line x1="690.7" y1="398.5" x2="693.0" y2="398.5" stroke="#1a3047" stroke-width="0.50"/>
<path d="M707.3 398 A15 15 0 0 1 693 413.3" fill="none" stroke="#1b3146" stroke-width="0.45"/>
<ellipse cx="732.5" cy="406.5" rx="3.2" ry="2.4" fill="none" stroke="#1b3146" stroke-width="0.5"/>
<line x1="729.8" y1="440.0" x2="729.8" y2="480.5" stroke="#1a3047" stroke-width="0.50"/>
<circle cx="734.7" cy="447.5" r="2.5" fill="none" stroke="#1b3146" stroke-width="0.5"/>
<circle cx="734.7" cy="460.5" r="2.5" fill="none" stroke="#1b3146" stroke-width="0.5"/>
<circle cx="734.7" cy="472.4" r="2.5" fill="none" stroke="#1b3146" stroke-width="0.5"/>
<circle cx="746.5" cy="493" r="4.6" fill="none" stroke="#1b3146" stroke-width="0.5"/>
<path d="M692.5 466.5 A15 15 0 0 1 707 481" fill="none" stroke="#1b3146" stroke-width="0.45"/>
<path d="M693.5 501.5 A15 15 0 0 1 708 516" fill="none" stroke="#1b3146" stroke-width="0.45"/>
<line x1="693.5" y1="501.5" x2="693.5" y2="516.0" stroke="#1a3047" stroke-width="0.50"/>
<line x1="716.0" y1="483.5" x2="731.0" y2="484.5" stroke="#1a3047" stroke-width="0.50"/>
<path d="M556.8 469.5 A15 15 0 0 1 571.6 484" fill="none" stroke="#1b3146" stroke-width="0.45"/>
<path d="M556.8 501.5 A15 15 0 0 1 571.6 516" fill="none" stroke="#1b3146" stroke-width="0.45"/>
<path d="M624.6 366.8 A15 15 0 0 0 639.5 381.5" fill="none" stroke="#1b3146" stroke-width="0.45"/>
<line x1="639.5" y1="379.5" x2="639.5" y2="381.5" stroke="#1a3047" stroke-width="0.50"/>
<path d="M624.6 398 A16 16 0 0 0 640.5 414" fill="none" stroke="#1b3146" stroke-width="0.45"/>
<rect x="639.8" y="398.5" width="2.0" height="16.0" fill="none" stroke="#23425c" stroke-width="0.50"/>
<rect x="333.5" y="365.0" width="126.4" height="1.9" fill="#05080c"/>
<rect x="490.2" y="365.0" width="66.5" height="1.9" fill="#05080c"/>
<rect x="571.6" y="365.0" width="53.0" height="1.9" fill="#05080c"/>
<rect x="638.7" y="365.0" width="163.0" height="1.9" fill="#05080c"/>
<rect x="816.7" y="365.0" width="43.6" height="1.9" fill="#05080c"/>
<rect x="333.5" y="516.0" width="36.4" height="1.9" fill="#05080c"/>
<rect x="384.9" y="516.0" width="75.0" height="1.9" fill="#05080c"/>
<rect x="490.2" y="516.0" width="66.5" height="1.9" fill="#05080c"/>
<rect x="571.6" y="516.0" width="52.4" height="1.9" fill="#05080c"/>
<rect x="638.7" y="516.0" width="53.0" height="1.9" fill="#05080c"/>
<rect x="707.3" y="516.0" width="54.5" height="1.9" fill="#05080c"/>
<rect x="776.8" y="516.0" width="24.3" height="1.9" fill="#05080c"/>
<rect x="816.7" y="516.0" width="43.6" height="1.9" fill="#05080c"/>
<rect x="333.3" y="358.7" width="2.3" height="159.2" fill="#05080c"/>
<rect x="371.3" y="365.0" width="1.7" height="13.6" fill="#05080c"/>
<rect x="333.5" y="377.7" width="61.3" height="1.8" fill="#05080c"/>
<rect x="342.7" y="378.6" width="1.6" height="104.4" fill="#05080c"/>
<rect x="344.3" y="439.3" width="24.3" height="1.6" fill="#05080c"/>
<rect x="333.5" y="481.7" width="43.2" height="1.9" fill="#05080c"/>
<rect x="333.5" y="490.8" width="33.9" height="1.5" fill="#05080c"/>
<rect x="366.1" y="483.6" width="1.9" height="10.0" fill="#05080c"/>
<rect x="366.2" y="509.8" width="1.6" height="6.4" fill="#05080c"/>
<rect x="393.8" y="374.9" width="1.4" height="132.6" fill="#05080c"/>
<rect x="395.1" y="365.0" width="10.3" height="9.9" fill="#05080c"/>
<rect x="405.4" y="365.0" width="8.8" height="7.4" fill="#05080c"/>
<rect x="414.2" y="365.0" width="19.9" height="1.8" fill="#05080c"/>
<rect x="434.1" y="365.0" width="10.6" height="7.4" fill="#05080c"/>
<rect x="414.2" y="371.8" width="19.9" height="0.6" fill="#05080c"/>
<rect x="394.8" y="507.3" width="10.6" height="10.6" fill="#05080c"/>
<rect x="405.4" y="510.4" width="8.8" height="7.5" fill="#05080c"/>
<rect x="414.2" y="516.0" width="19.9" height="1.9" fill="#05080c"/>
<rect x="434.1" y="510.4" width="10.6" height="7.5" fill="#05080c"/>
<rect x="414.2" y="510.4" width="19.9" height="1.0" fill="#05080c"/>
<rect x="444.7" y="365.0" width="15.2" height="1.9" fill="#05080c"/>
<rect x="458.2" y="365.0" width="1.7" height="18.7" fill="#05080c"/>
<rect x="444.7" y="381.8" width="15.2" height="1.9" fill="#05080c"/>
<rect x="444.7" y="499.2" width="15.2" height="1.4" fill="#05080c"/>
<rect x="458.2" y="499.2" width="1.7" height="18.7" fill="#05080c"/>
<rect x="444.7" y="516.0" width="15.2" height="1.9" fill="#05080c"/>
<rect x="444.0" y="372.4" width="1.3" height="138.0" fill="#0c1722"/>
<rect x="444.1" y="383.7" width="1.6" height="3.8" fill="#05080c"/>
<rect x="444.1" y="403.0" width="1.6" height="26.8" fill="#05080c"/>
<rect x="444.1" y="445.6" width="1.6" height="26.8" fill="#05080c"/>
<rect x="444.1" y="489.2" width="1.6" height="10.6" fill="#05080c"/>
<rect x="490.2" y="365.0" width="15.4" height="1.9" fill="#05080c"/>
<rect x="490.2" y="365.0" width="1.7" height="18.7" fill="#05080c"/>
<rect x="490.2" y="381.8" width="15.6" height="1.9" fill="#05080c"/>
<rect x="490.2" y="499.2" width="15.4" height="1.4" fill="#05080c"/>
<rect x="490.2" y="499.2" width="1.7" height="18.7" fill="#05080c"/>
<rect x="490.2" y="516.0" width="15.6" height="1.9" fill="#05080c"/>
<rect x="505.0" y="366.9" width="1.2" height="149.1" fill="#0c1722"/>
<rect x="504.6" y="383.7" width="1.6" height="3.8" fill="#05080c"/>
<rect x="504.6" y="403.0" width="1.6" height="26.8" fill="#05080c"/>
<rect x="504.6" y="445.6" width="1.6" height="26.8" fill="#05080c"/>
<rect x="504.6" y="489.2" width="1.6" height="10.6" fill="#05080c"/>
<rect x="545.5" y="365.0" width="9.3" height="9.9" fill="#05080c"/>
<rect x="545.5" y="507.3" width="9.3" height="10.6" fill="#05080c"/>
<rect x="552.6" y="374.9" width="1.8" height="132.6" fill="#05080c"/>
<rect x="580.1" y="366.8" width="1.8" height="31.4" fill="#05080c"/>
<rect x="614.0" y="366.8" width="1.8" height="31.4" fill="#05080c"/>
<rect x="581.0" y="383.9" width="33.9" height="1.9" fill="#05080c"/>
<rect x="553.5" y="397.4" width="71.1" height="1.6" fill="#05080c"/>
<rect x="595.3" y="398.2" width="4.7" height="85.8" fill="#05080c"/>
<rect x="571.6" y="483.1" width="70.2" height="1.9" fill="#05080c"/>
<rect x="553.5" y="483.2" width="2.5" height="1.6" fill="#05080c"/>
<rect x="580.1" y="484.0" width="1.8" height="32.2" fill="#05080c"/>
<rect x="614.0" y="484.0" width="1.8" height="32.2" fill="#05080c"/>
<rect x="581.0" y="497.3" width="33.9" height="1.7" fill="#05080c"/>
<rect x="640.6" y="365.0" width="10.0" height="10.0" fill="#05080c"/>
<rect x="650.6" y="365.0" width="8.7" height="7.4" fill="#05080c"/>
<rect x="659.3" y="365.0" width="20.0" height="1.8" fill="#05080c"/>
<rect x="679.3" y="365.0" width="10.6" height="7.4" fill="#05080c"/>
<rect x="659.3" y="371.8" width="20.0" height="0.6" fill="#05080c"/>
<rect x="640.6" y="507.3" width="10.0" height="10.6" fill="#05080c"/>
<rect x="650.6" y="510.4" width="8.7" height="7.5" fill="#05080c"/>
<rect x="659.3" y="516.0" width="20.0" height="1.9" fill="#05080c"/>
<rect x="679.3" y="510.4" width="10.6" height="7.5" fill="#05080c"/>
<rect x="659.3" y="510.4" width="20.0" height="1.0" fill="#05080c"/>
<rect x="641.7" y="375.0" width="1.4" height="132.3" fill="#05080c"/>
<rect x="688.9" y="366.8" width="1.8" height="149.4" fill="#05080c"/>
<rect x="739.0" y="366.8" width="1.9" height="114.5" fill="#05080c"/>
<rect x="751.6" y="366.8" width="1.8" height="149.4" fill="#05080c"/>
<rect x="717.9" y="438.5" width="22.1" height="1.5" fill="#05080c"/>
<rect x="707.3" y="480.5" width="44.3" height="1.6" fill="#05080c"/>
<rect x="715.4" y="504.2" width="37.4" height="13.7" fill="#05080c"/>
<rect x="715.4" y="498.0" width="1.5" height="6.2" fill="#05080c"/>
<rect x="727.9" y="509.2" width="14.9" height="8.9" fill="#fff"/>
<rect x="752.5" y="459.9" width="40.5" height="1.7" fill="#05080c"/>
<rect x="752.5" y="469.9" width="39.2" height="1.7" fill="#05080c"/>
<rect x="791.6" y="461.6" width="1.7" height="46.4" fill="#05080c"/>
<rect x="789.9" y="365.0" width="10.2" height="10.0" fill="#05080c"/>
<rect x="783.0" y="365.0" width="6.9" height="4.3" fill="#05080c"/>
<rect x="789.9" y="507.4" width="10.2" height="10.5" fill="#05080c"/>
<rect x="783.0" y="513.6" width="6.9" height="4.3" fill="#05080c"/>
<rect x="798.4" y="375.0" width="1.7" height="68.0" fill="#05080c"/>
<rect x="800.1" y="400.2" width="58.4" height="1.8" fill="#05080c"/>
<rect x="818.6" y="400.2" width="14.9" height="1.8" fill="#b9c0c6"/>
<rect x="858.4" y="365.0" width="1.9" height="160.8" fill="#05080c"/>
<rect x="798.6" y="442.9" width="61.7" height="21.8" fill="#05080c"/>
<line x1="376.7" y1="350.0" x2="376.7" y2="365.2" stroke="#999" stroke-width="1.6"/>
<path d="M376.7 350 A15 15 0 0 1 391.7 365" fill="none" stroke="#6c6c6c" stroke-width="0.60"/>
<line x1="416.9" y1="350.0" x2="416.9" y2="365.2" stroke="#999" stroke-width="1.6"/>
<path d="M416.9 350 A15 15 0 0 1 431.9 365" fill="none" stroke="#6c6c6c" stroke-width="0.60"/>
<line x1="556.9" y1="350.0" x2="556.9" y2="365.2" stroke="#999" stroke-width="1.6"/>
<path d="M556.9 350 A15 15 0 0 1 571.9 365" fill="none" stroke="#6c6c6c" stroke-width="0.60"/>
<line x1="661.6" y1="350.0" x2="661.6" y2="365.2" stroke="#999" stroke-width="1.6"/>
<path d="M661.6 350 A15 15 0 0 1 676.6 365" fill="none" stroke="#6c6c6c" stroke-width="0.60"/>
<line x1="416.7" y1="517.8" x2="416.7" y2="532.8" stroke="#999" stroke-width="1.6"/>
<path d="M416.7 532.8 A15 15 0 0 0 431.7 517.8" fill="none" stroke="#6c6c6c" stroke-width="0.60"/>
<line x1="661.6" y1="517.8" x2="661.6" y2="532.8" stroke="#999" stroke-width="1.6"/>
<path d="M661.6 532.8 A15 15 0 0 0 676.6 517.8" fill="none" stroke="#6c6c6c" stroke-width="0.60"/>
<line x1="761.8" y1="517.8" x2="761.8" y2="532.8" stroke="#999" stroke-width="1.6"/>
<path d="M761.8 532.8 A15 15 0 0 0 776.8 517.8" fill="none" stroke="#6c6c6c" stroke-width="0.60"/>
<line x1="801.7" y1="517.8" x2="801.7" y2="532.8" stroke="#999" stroke-width="1.6"/>
<path d="M801.7 532.8 A15 15 0 0 0 816.7 517.8" fill="none" stroke="#6c6c6c" stroke-width="0.60"/>
<line x1="638.8" y1="517.8" x2="638.8" y2="532.8" stroke="#999" stroke-width="1.6"/>
<path d="M638.8 532.8 A15 15 0 0 1 623.8 517.8" fill="none" stroke="#6c6c6c" stroke-width="0.60"/>
<path d="M460.5 381.4 A15 15 0 0 0 475.4 366.4 A15 15 0 0 1 505.3 364.6" fill="none" stroke="#6c6c6c" stroke-width="0.60"/>
<line x1="490.2" y1="363.9" x2="505.3" y2="363.9" stroke="#999" stroke-width="1.5"/>
<path d="M444.8 518.4 A15 15 0 0 0 474.8 518.4 A15 15 0 0 1 489.7 501.2" fill="none" stroke="#6c6c6c" stroke-width="0.60"/>
<line x1="444.8" y1="518.7" x2="459.9" y2="518.7" stroke="#999" stroke-width="1.5"/>
<line x1="490.3" y1="501.2" x2="490.3" y2="516.0" stroke="#999" stroke-width="1.6"/>
<line x1="801.9" y1="366.8" x2="801.9" y2="381.8" stroke="#999" stroke-width="1.6"/>
<path d="M801.9 381.8 A15 15 0 0 0 816.7 366.8" fill="none" stroke="#6c6c6c" stroke-width="0.60"/>
<path d="M818.6 400.4 L828.9 389.7" fill="none" stroke="#6c6c6c" stroke-width="0.70"/>
<path d="M828.9 389.7 A15 15 0 0 1 833.5 400.4" fill="none" stroke="#6c6c6c" stroke-width="0.60"/>
<path d="M848.5 366.8 V400.2" fill="none" stroke="#999" stroke-width="0.50"/>
<path d="M848.5 376.2 H858.5" fill="none" stroke="#666" stroke-width="0.80"/>
<path d="M848.5 391.1 H858.5" fill="none" stroke="#aaa" stroke-width="0.50"/>
<rect x="850.3" y="380.5" width="6.9" height="6.9" fill="none" stroke="#999" stroke-width="0.7"/>
<rect x="406.0" y="365.0" width="4.8" height="2.2" fill="#6f7f8c"/>
<rect x="406.0" y="515.6" width="4.8" height="2.3" fill="#6f7f8c"/>
<rect x="785.2" y="360.4" width="4.5" height="4.0" fill="#fff" stroke="#2a2a2a" stroke-width="0.7"/>
<rect x="785.0" y="364.6" width="4.8" height="2.8" fill="#6f7f8c"/>
<rect x="732.4" y="509.8" width="6.4" height="10.4" fill="#fff" stroke="#5a5a5a" stroke-width="0.6"/>
<rect x="733.0" y="515.4" width="5.2" height="4.6" rx="1.6" fill="none" stroke="#5a5a5a" stroke-width="0.6"/>
<text class="fe" x="405.5" y="364.4" textLength="5.2" lengthAdjust="spacingAndGlyphs">FE</text>
<text class="fe" x="404.9" y="522.9" textLength="5.3" lengthAdjust="spacingAndGlyphs">FE</text>
<text class="fe" x="785.9" y="363.8" textLength="3.2" lengthAdjust="spacingAndGlyphs" style="font-size:3.4px">FE</text>
<text class="fe" x="784.9" y="522.9" textLength="5.2" lengthAdjust="spacingAndGlyphs">FE</text>
</g>
<g id="perimeter">
<line x1="125.7" y1="330.2" x2="584.7" y2="117.8" stroke="#666" stroke-width="1.3"/>
<line x1="127.1" y1="333.2" x2="586.1" y2="120.8" stroke="#777" stroke-width="0.7"/>
<line x1="125.7" y1="552.5" x2="584.7" y2="764.9" stroke="#666" stroke-width="1.3"/>
<line x1="127.1" y1="549.5" x2="586.1" y2="761.9" stroke="#777" stroke-width="0.7"/>
<line x1="1069.8" y1="330.2" x2="610.8" y2="117.8" stroke="#666" stroke-width="1.3"/>
<line x1="1068.4" y1="333.2" x2="609.4" y2="120.8" stroke="#777" stroke-width="0.7"/>
<line x1="1069.8" y1="552.5" x2="610.8" y2="764.9" stroke="#666" stroke-width="1.3"/>
<line x1="1068.4" y1="549.5" x2="609.4" y2="761.9" stroke="#777" stroke-width="0.7"/>
<line x1="113.6" y1="350" x2="113.6" y2="533" stroke="#5e5e5e" stroke-width="1.3"/>
<line x1="116.6" y1="350" x2="116.6" y2="533" stroke="#6a6a6a" stroke-width="0.7"/>
<line x1="1078.4" y1="350" x2="1078.4" y2="533" stroke="#6a6a6a" stroke-width="0.7"/>
<line x1="1081.6" y1="350" x2="1081.6" y2="533" stroke="#5e5e5e" stroke-width="1.3"/>
<polygon points="142.7,315.0 160.9,306.6 165.1,315.6 146.9,324.0" fill="#000"/>
<polygon points="142.7,567.7 160.9,576.1 165.1,567.1 146.9,558.7" fill="#000"/>
<polygon points="1052.8,315.0 1034.6,306.6 1030.4,315.6 1048.6,324.0" fill="#000"/>
<polygon points="1052.8,567.7 1034.6,576.1 1030.4,567.1 1048.6,558.7" fill="#000"/>
<polygon points="179.1,298.1 197.3,289.7 201.5,298.8 183.3,307.2" fill="#000"/>
<polygon points="179.1,584.6 197.3,593.0 201.5,583.9 183.3,575.5" fill="#000"/>
<polygon points="1016.4,298.1 998.2,289.7 994.0,298.8 1012.2,307.2" fill="#000"/>
<polygon points="1016.4,584.6 998.2,593.0 994.0,583.9 1012.2,575.5" fill="#000"/>
<polygon points="215.3,281.3 233.9,272.7 241.8,289.9 223.2,298.5" fill="#000"/>
<polygon points="215.3,601.4 233.9,610.0 241.8,592.8 223.2,584.2" fill="#000"/>
<polygon points="980.2,281.3 961.6,272.7 953.7,289.9 972.3,298.5" fill="#000"/>
<polygon points="980.2,601.4 961.6,610.0 953.7,592.8 972.3,584.2" fill="#000"/>
<polygon points="251.9,264.4 270.1,256.0 274.3,265.1 256.1,273.5" fill="#000"/>
<polygon points="251.9,618.3 270.1,626.7 274.3,617.6 256.1,609.2" fill="#000"/>
<polygon points="943.6,264.4 925.4,256.0 921.2,265.1 939.4,273.5" fill="#000"/>
<polygon points="943.6,618.3 925.4,626.7 921.2,617.6 939.4,609.2" fill="#000"/>
<polygon points="288.3,247.6 306.5,239.2 310.7,248.3 292.5,256.7" fill="#000"/>
<polygon points="288.3,635.1 306.5,643.5 310.7,634.4 292.5,626.0" fill="#000"/>
<polygon points="907.2,247.6 889.0,239.2 884.8,248.3 903.0,256.7" fill="#000"/>
<polygon points="907.2,635.1 889.0,643.5 884.8,634.4 903.0,626.0" fill="#000"/>
<polygon points="324.7,230.8 342.9,222.4 347.1,231.4 328.9,239.8" fill="#000"/>
<polygon points="324.7,651.9 342.9,660.3 347.1,651.3 328.9,642.9" fill="#000"/>
<polygon points="870.8,230.8 852.6,222.4 848.4,231.4 866.6,239.8" fill="#000"/>
<polygon points="870.8,651.9 852.6,660.3 848.4,651.3 866.6,642.9" fill="#000"/>
<polygon points="360.9,213.9 379.5,205.3 387.4,222.6 368.8,231.2" fill="#000"/>
<polygon points="360.9,668.8 379.5,677.4 387.4,660.1 368.8,651.5" fill="#000"/>
<polygon points="834.6,213.9 816.0,205.3 808.1,222.6 826.7,231.2" fill="#000"/>
<polygon points="834.6,668.8 816.0,677.4 808.1,660.1 826.7,651.5" fill="#000"/>
<polygon points="397.5,197.1 415.7,188.7 419.9,197.8 401.7,206.2" fill="#000"/>
<polygon points="397.5,685.6 415.7,694.0 419.9,684.9 401.7,676.5" fill="#000"/>
<polygon points="798.0,197.1 779.8,188.7 775.6,197.8 793.8,206.2" fill="#000"/>
<polygon points="798.0,685.6 779.8,694.0 775.6,684.9 793.8,676.5" fill="#000"/>
<polygon points="433.9,180.2 452.1,171.8 456.3,180.9 438.1,189.3" fill="#000"/>
<polygon points="433.9,702.5 452.1,710.9 456.3,701.8 438.1,693.4" fill="#000"/>
<polygon points="761.6,180.2 743.4,171.8 739.2,180.9 757.4,189.3" fill="#000"/>
<polygon points="761.6,702.5 743.4,710.9 739.2,701.8 757.4,693.4" fill="#000"/>
<polygon points="470.1,163.4 488.7,154.8 496.6,172.1 478.0,180.7" fill="#000"/>
<polygon points="470.1,719.3 488.7,727.9 496.6,710.6 478.0,702.0" fill="#000"/>
<polygon points="725.4,163.4 706.8,154.8 698.9,172.1 717.5,180.7" fill="#000"/>
<polygon points="725.4,719.3 706.8,727.9 698.9,710.6 717.5,702.0" fill="#000"/>
<polygon points="506.7,146.6 524.9,138.2 529.1,147.2 510.9,155.6" fill="#000"/>
<polygon points="506.7,736.1 524.9,744.5 529.1,735.5 510.9,727.1" fill="#000"/>
<polygon points="688.8,146.6 670.6,138.2 666.4,147.2 684.6,155.6" fill="#000"/>
<polygon points="688.8,736.1 670.6,744.5 666.4,735.5 684.6,727.1" fill="#000"/>
<polygon points="543.1,129.7 561.3,121.3 565.5,130.4 547.3,138.8" fill="#000"/>
<polygon points="543.1,753.0 561.3,761.4 565.5,752.3 547.3,743.9" fill="#000"/>
<polygon points="652.4,129.7 634.2,121.3 630.0,130.4 648.2,138.8" fill="#000"/>
<polygon points="652.4,753.0 634.2,761.4 630.0,752.3 648.2,743.9" fill="#000"/>
<polygon points="597.6,104.9 616.0,113.0 609.5,128.0 586.3,128.0 579.6,113.0" fill="#000"/>
<polygon points="586.3,754.2 609.3,754.2 616.0,770.3 597.6,778.9 579.5,770.3" fill="#000"/>
<polygon points="106.3,332.0 125.0,323.5 129.6,331.5 129.6,351.5 106.3,351.5" fill="#000"/>
<polygon points="106.3,550.7 125.0,559.2 129.6,551.2 129.6,531.2 106.3,531.2" fill="#000"/>
<polygon points="1071.3,322.7 1090.0,331.5 1090.0,351.1 1067.3,351.1 1067.3,330.5" fill="#000"/>
<polygon points="1071.3,560.0 1090.0,551.2 1090.0,531.6 1067.3,531.6 1067.3,552.2" fill="#000"/>
<rect x="106.4" y="371.8" width="10.2" height="19.8" fill="#000"/>
<rect x="1078.9" y="371.9" width="9.6" height="19.6" fill="#000"/>
<rect x="106.4" y="411.6" width="10.2" height="19.8" fill="#000"/>
<rect x="1078.9" y="411.7" width="9.6" height="19.6" fill="#000"/>
<rect x="106.4" y="451.6" width="10.2" height="19.8" fill="#000"/>
<rect x="1078.9" y="451.7" width="9.6" height="19.6" fill="#000"/>
<rect x="106.4" y="491.3" width="10.2" height="19.8" fill="#000"/>
<rect x="1078.9" y="491.4" width="9.6" height="19.6" fill="#000"/>
<polygon points="1087.0,318 1110,318 1110,566 1082.6,566" fill="#fff"/>
</g>
<g opacity="0.999"><text class="street" y="66.2"><tspan x="505.6" textLength="75.4" lengthAdjust="spacingAndGlyphs">Beale</tspan> <tspan x="585.0" textLength="81.6" lengthAdjust="spacingAndGlyphs">Street</tspan></text>
<text class="street" transform="translate(1142.9 0) rotate(90)" y="0"><tspan x="347.7" textLength="99.6" lengthAdjust="spacingAndGlyphs">Mission</tspan> <tspan x="454.9" textLength="79.4" lengthAdjust="spacingAndGlyphs">Street</tspan></text></g>
</svg>
</body>
</html>
